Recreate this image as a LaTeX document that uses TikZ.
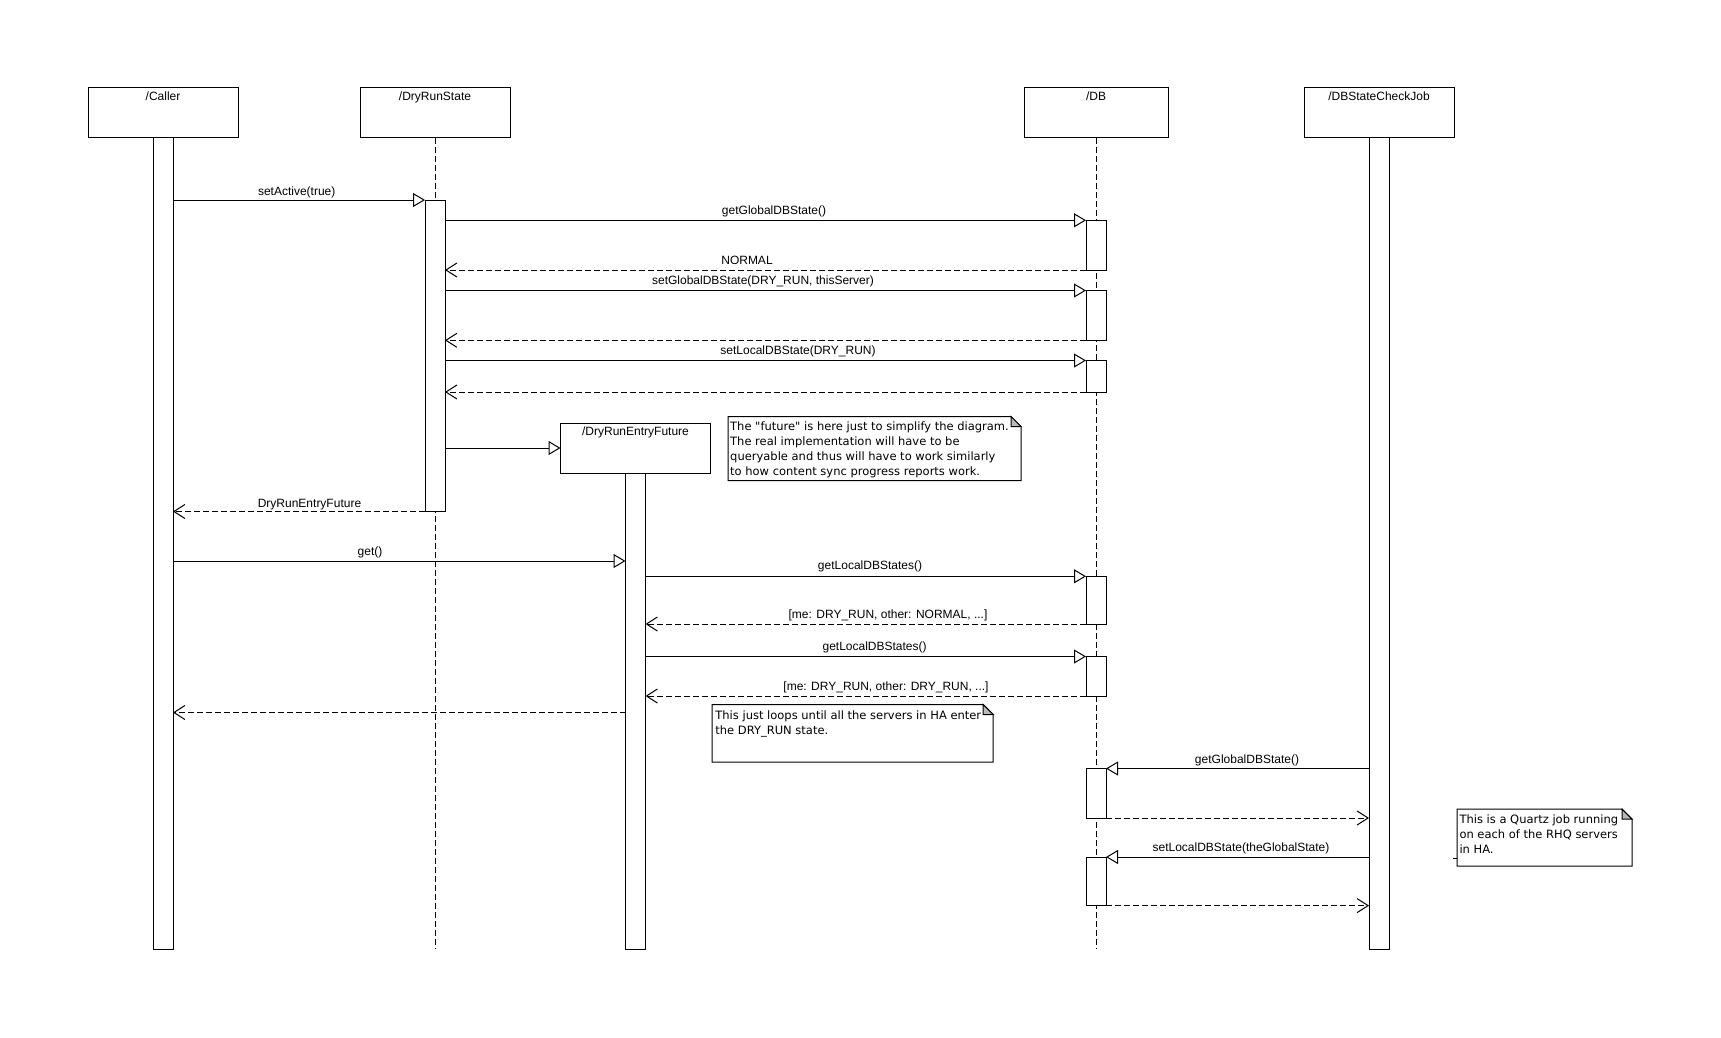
\documentclass[tikz,border=0pt]{standalone}
\usepackage{fontspec}
\setmainfont{Liberation Sans}
\newfontfamily\notefont{DejaVu Sans}
\usetikzlibrary{arrows.meta}

\tikzset{
  objbox/.style={draw, line width=1pt, minimum width=150pt, minimum height=50pt, inner sep=0pt, outer sep=0pt},
  actbar/.style={draw, fill=white, line width=1pt, minimum width=20pt, inner sep=0pt, outer sep=0pt, anchor=north},
  lifeline/.style={line width=1pt, dash pattern=on 6pt off 3pt},
  call/.style={line width=1pt, -{Triangle[open, length=12pt, width=14pt]}},
  reply/.style={line width=1pt, dash pattern=on 6pt off 3pt, -{Straight Barb[length=11pt, width=14pt]}},
  msg/.style={font=\fontsize{12}{14}\selectfont, anchor=base, inner sep=0pt},
  notebox/.style={minimum width=#1, inner sep=0pt, outer sep=0pt, anchor=north west},
  notetxt/.style={font=\notefont\fontsize{11.5}{15}\selectfont, align=left, anchor=north west, inner sep=0pt},
  dogear/.style={draw, fill=gray!55, line width=1pt}
}

\begin{document}
\begin{tikzpicture}[x=1pt, y=-1pt]
  \useasboundingbox (0,0) rectangle (1721,1038);

  % objects
  \node[objbox] (caller) at (163,113) {};
  \node[objbox] (drs) at (435,113) {};
  \node[objbox, minimum width=144pt] (db) at (1096,113) {};
  \node[objbox] (job) at (1379,113) {};
  \node[objbox] (future) at (635.5,448) {};
  \node[msg] (callername) at ([yshift=-12.7pt]caller.north) {/Caller};
  \node[msg] (drsname) at ([yshift=-12.7pt]drs.north) {/DryRunState};
  \node[msg] (dbname) at ([yshift=-12.7pt]db.north) {/DB};
  \node[msg] (jobname) at ([yshift=-12.7pt]job.north) {/DBStateCheckJob};
  \node[msg] (futurename) at ([yshift=-12.7pt]future.north) {/DryRunEntryFuture};

  % lifelines
  \coordinate (drsend) at (435,949);
  \coordinate (dbend) at (1096,949);
  \draw[lifeline] (drs.south) -- (drsend);
  \draw[lifeline] (db.south) -- (dbend);

  % activations
  \node[actbar, minimum height=811pt] (callerbar) at (caller.south) {};
  \node[actbar, minimum height=811pt] (jobbar) at (job.south) {};
  \node[actbar, minimum height=476pt] (futurebar) at (future.south) {};
  \node[actbar, minimum height=311.5pt] (drsbar) at (435,200) {};
  \node[actbar, minimum height=49.7pt] (db1) at (1096,220.3) {};
  \node[actbar, minimum height=49.8pt] (db2) at (1096,290.5) {};
  \node[actbar, minimum height=31.5pt] (db3) at (1096,360.5) {};
  \node[actbar, minimum height=47.7pt] (db4) at (1096,576.3) {};
  \node[actbar, minimum height=39.5pt] (db5) at (1096,656.5) {};
  \node[actbar, minimum height=49.5pt] (db6) at (1096,768.5) {};
  \node[actbar, minimum height=48.6pt] (db7) at (1096,857) {};

  % messages
  \draw[call] (callerbar.east |- drsbar.north) -- (drsbar.north west);
  \node[msg] (m1) at (296.7,195.7) {setActive(true)};
  \draw[call] (drsbar.east |- db1.north) -- (db1.north west);
  \node[msg] (m2) at (774,214.3) {getGlobalDBState()};
  \draw[reply] (db1.south west) -- (drsbar.east |- db1.south);
  \node[msg] (m3) at (747,264.7) {NORMAL};
  \draw[call] (drsbar.east |- db2.north) -- (db2.north west);
  \node[msg] (m4) at (763,284) {setGlobalDBState(DRY\_RUN, thisServer)};
  \draw[reply] (db2.south west) -- (drsbar.east |- db2.south);
  \draw[call] (drsbar.east |- db3.north) -- (db3.north west);
  \node[msg] (m6) at (798,354) {setLocalDBState(DRY\_RUN)};
  \draw[reply] (db3.south west) -- (drsbar.east |- db3.south);
  \draw[call] (drsbar.east |- future.west) -- (future.west);
  \draw[reply] (drsbar.south west) -- (callerbar.east |- drsbar.south);
  \node[msg] (m9) at (309.5,507) {DryRunEntryFuture};

  \coordinate (get) at (636,561);
  \draw[call] (callerbar.east |- get) -- (futurebar.west |- get);
  \node[msg] (m10) at (370,555.5) {get()};
  \draw[call] (futurebar.east |- db4.north) -- (db4.north west);
  \node[msg] (m11) at (870,569) {getLocalDBStates()};
  \draw[reply] (db4.south west) -- (futurebar.east |- db4.south);
  \node[msg] (m12) at (888,618.3) {[me: DRY\_RUN, other: NORMAL, ...]};
  \draw[call] (futurebar.east |- db5.north) -- (db5.north west);
  \node[msg] (m13) at (874.6,650.7) {getLocalDBStates()};
  \draw[reply] (db5.south west) -- (futurebar.east |- db5.south);
  \node[msg] (m14) at (886,690) {[me: DRY\_RUN, other: DRY\_RUN, ...]};
  \coordinate (done) at (636,712.5);
  \draw[reply] (futurebar.west |- done) -- (callerbar.east |- done);

  \draw[call] (jobbar.west |- db6.north) -- (db6.north east);
  \node[msg] (m16) at (1247,763.3) {getGlobalDBState()};
  \draw[reply] (db6.south east) -- (jobbar.west |- db6.south);
  \draw[call] (jobbar.west |- db7.north) -- (db7.north east);
  \node[msg] (m18) at (1241,851.7) {setLocalDBState(theGlobalState)};
  \draw[reply] (db7.south east) -- (jobbar.west |- db7.south);

  % notes
  \node[notebox=293pt, minimum height=64.2pt] (note1) at (728,416.5) {};
  \draw[line width=1pt] (note1.north west) -- ([xshift=-10pt]note1.north east) -- ([yshift=-10pt]note1.north east) -- (note1.south east) -- (note1.south west) -- cycle;
  \draw[dogear] ([xshift=-10pt]note1.north east) -- ([xshift=-10pt,yshift=-10pt]note1.north east) -- ([yshift=-10pt]note1.north east) -- cycle;
  \node[notetxt] (note1txt) at ([xshift=2pt,yshift=-5pt]note1.north west) {The "future" is here just to simplify the diagram.\\The real implementation will have to be\\queryable and thus will have to work similarly\\to how content sync progress reports work.};

  \node[notebox=281pt, minimum height=57.5pt] (note2) at (712.2,704.5) {};
  \draw[line width=1pt] (note2.north west) -- ([xshift=-10pt]note2.north east) -- ([yshift=-10pt]note2.north east) -- (note2.south east) -- (note2.south west) -- cycle;
  \draw[dogear] ([xshift=-10pt]note2.north east) -- ([xshift=-10pt,yshift=-10pt]note2.north east) -- ([yshift=-10pt]note2.north east) -- cycle;
  \node[notetxt] (note2txt) at ([xshift=3pt,yshift=-6pt]note2.north west) {This just loops until all the servers in HA enter\\the DRY\_RUN state.};

  \node[notebox=175pt, minimum height=56.8pt] (note3) at (1457,809.2) {};
  \draw[line width=1pt] (note3.north west) -- ([xshift=-10pt]note3.north east) -- ([yshift=-10pt]note3.north east) -- (note3.south east) -- (note3.south west) -- cycle;
  \draw[dogear] ([xshift=-10pt]note3.north east) -- ([xshift=-10pt,yshift=-10pt]note3.north east) -- ([yshift=-10pt]note3.north east) -- cycle;
  \draw[line width=1pt] ([yshift=7.7pt]note3.south west) -- ++(-4pt,0);
  \node[notetxt] (note3txt) at ([xshift=2.3pt,yshift=-5.4pt]note3.north west) {This is a Quartz job running\\on each of the RHQ servers\\in HA.};
\end{tikzpicture}
\end{document}
